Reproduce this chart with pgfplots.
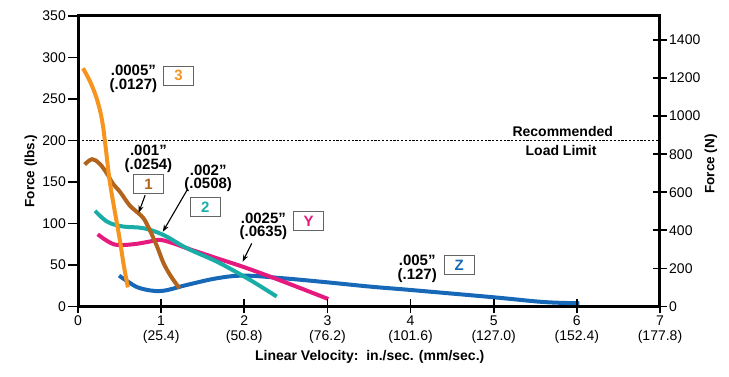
\documentclass[border=0pt]{standalone}
\usepackage{fontspec}
\setmainfont{Liberation Sans}
\usepackage{pgfplots}
\pgfplotsset{compat=1.18}
\usetikzlibrary{arrows.meta}
\definecolor{cOrange}{RGB}{247,148,29}
\definecolor{cBrown}{RGB}{178,100,28}
\definecolor{cTeal}{RGB}{26,173,168}
\definecolor{cMag}{RGB}{229,25,126}
\definecolor{cBlue}{RGB}{24,104,184}
\definecolor{cBox}{RGB}{100,100,100}
\newcommand{\tl}{\fontsize{14}{15}\selectfont}
\newcommand{\an}{\bfseries\fontsize{15}{13.5}\selectfont}
\begin{document}
\begin{tikzpicture}
\path[use as bounding box] (0,0) rectangle (729pt,377pt);
\begin{axis}[
  at={(78pt,70.5pt)}, anchor=south west,
  scale only axis, width=582pt, height=290.5pt,
  xmin=0, xmax=7, ymin=0, ymax=350,
  axis line style={line width=3pt},
  xtick=\empty,
  ytick={0,50,...,350},
  ytick pos=left,
  tick align=outside,
  major tick length=10pt,
  tick style={line width=1.7pt, black},
  yticklabel style={font=\tl, inner sep=2pt},
  /pgf/number format/assume math mode=true,
  clip=false,
]
\draw[line width=1pt, dash pattern=on 2.2pt off 1.6pt] (axis cs:0,200) -- (axis cs:7,200);
\node[font=\bfseries\fontsize{14}{15}\selectfont] at (axis cs:5.83,211) {Recommended};
\node[font=\bfseries\fontsize{14}{15}\selectfont] at (axis cs:5.81,188) {Load Limit};

\addplot[cBlue, line width=4pt, smooth, tension=0.6] coordinates {
(0.494,37.2)(0.6,30)(0.747,22)(1.0,18.7)(1.31,26)(1.67,34)(2.0,37.2)(2.47,34)(2.99,29.2)(3.52,23.9)(4.0,19.9)(5.0,11.1)(5.6,5.4)(6.03,3.9)};
\addplot[cMag, line width=4pt, smooth, tension=0.6] coordinates {
(0.237,87)(0.35,79)(0.466,74.2)(0.666,75)(0.85,78)(0.988,80.2)(1.15,76)(1.31,70.2)(1.67,58.1)(2.0,47.3)(2.47,30)(3.01,9)};
\addplot[cTeal, line width=4pt, smooth, tension=0.6] coordinates {
(0.205,115.2)(0.3,106)(0.386,100.4)(0.546,96.3)(0.787,94.3)(1.027,86.2)(1.31,70.2)(1.67,54)(2.0,36)(2.2,24)(2.39,12)};
\addplot[cBrown, line width=4pt, smooth, tension=0.6] coordinates {
(0.08,171)(0.17,177.5)(0.26,172)(0.345,160.7)(0.42,148)(0.506,138)(0.62,122)(0.72,113)(0.79,106)(0.85,95)(0.9,84)(0.96,70)(1.03,52)(1.12,36)(1.22,22)};
\addplot[cOrange, line width=4pt, smooth, tension=0.6] coordinates {
(0.06,287)(0.15,270)(0.23,249)(0.29,224)(0.33,194)(0.38,152)(0.44,116)(0.50,82)(0.55,50)(0.6,23)};

\draw[line width=1.1pt, -{Stealth[length=7pt,width=5pt]}] (axis cs:0.807,134) -- (axis cs:0.73,113);
\draw[line width=1.1pt, -{Stealth[length=7pt,width=5pt]}] (axis cs:1.31,140) -- (axis cs:1.02,90);
\draw[line width=1.1pt, -{Stealth[length=7pt,width=5pt]}] (axis cs:2.09,76) -- (axis cs:1.98,54);

\node[align=center, font=\an] at (axis cs:0.666,274.4) {.0005”\\(.0127)};
\node[align=center, font=\an] at (axis cs:0.847,178) {.001”\\(.0254)};
\node[align=center, font=\an] at (axis cs:1.566,154.6) {.002”\\(.0508)};
\node[align=center, font=\an] at (axis cs:2.23,96.7) {.0025”\\(.0635)};
\node[align=center, font=\an] at (axis cs:4.08,45.2) {.005”\\(.127)};

\tikzset{nb/.style={draw=cBox, line width=1pt, fill=white, minimum width=30pt, minimum height=19pt, inner sep=0pt, font=\bfseries\fontsize{15}{15}\selectfont}}
\node[nb, text=cOrange] at (axis cs:1.21,278) {3};
\node[nb, text=cBrown] at (axis cs:0.847,147.5) {1};
\node[nb, text=cTeal] at (axis cs:1.53,119.4) {2};
\node[nb, text=cMag] at (axis cs:2.775,103) {Y};
\node[nb, text=cBlue] at (axis cs:4.585,49.5) {Z};
\end{axis}
\begin{axis}[
  at={(78pt,70.5pt)}, anchor=south west,
  scale only axis, width=582pt, height=290.5pt,
  xmin=0, xmax=7, ymin=0, ymax=1526,
  axis line style={draw=none},
  xtick={0,1,...,7},
  xticklabels={0,{1\\(25.4)},{2\\(50.8)},{3\\(76.2)},{4\\(101.6)},{5\\(127.0)},{6\\(152.4)},{7\\(177.8)}},
  xtick pos=bottom,
  ytick={0,200,...,1400},
  ytick pos=right,
  yticklabel pos=right,
  tick align=center,
  major tick length=14pt,
  tick style={line width=1.7pt, black},
  x tick label style={font=\tl, align=center, inner sep=2pt},
  y tick label style={font=\tl, inner sep=2pt},
  /pgf/number format/assume math mode=true,
  /pgf/number format/1000 sep={},
]
\addplot[draw=none] coordinates {(0,0)};
\end{axis}
\node[rotate=90, font=\bfseries\fontsize{13.5}{14}\selectfont] at (31pt,206pt) {Force (lbs.)};
\node[rotate=90, font=\bfseries\fontsize{13.5}{14}\selectfont] at (711pt,213pt) {Force (N)};
\node[font=\bfseries\fontsize{14}{15}\selectfont] at (369.7pt,19.7pt) {Linear Velocity:\ \ in./sec. (mm/sec.)};
\end{tikzpicture}
\end{document}
